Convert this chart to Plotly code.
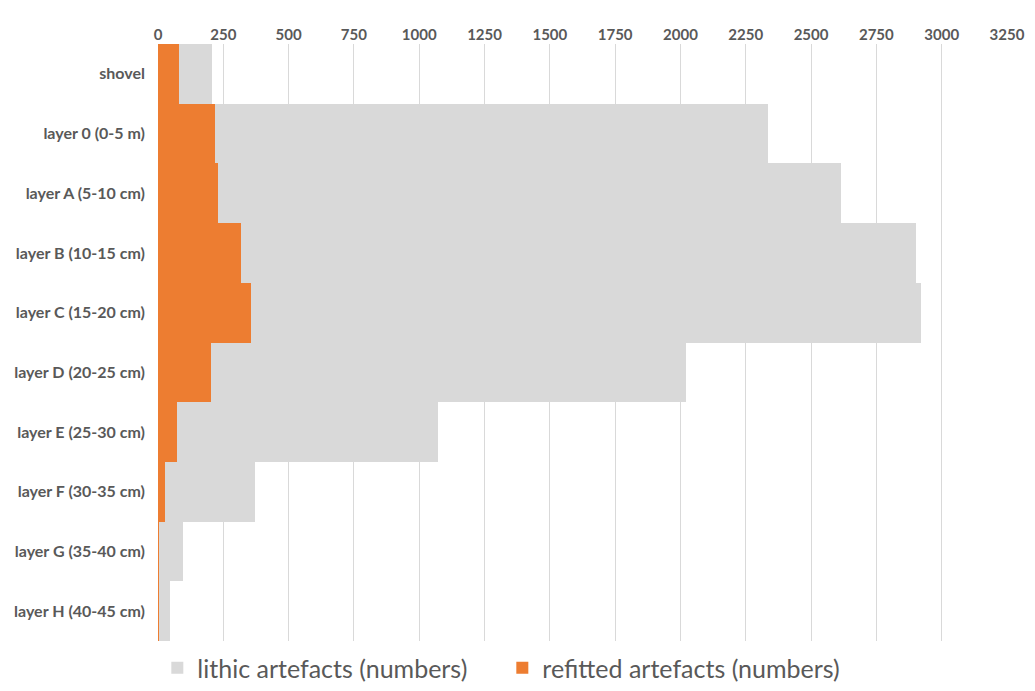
import plotly.graph_objects as go

# Excavation units, top to bottom
layers = [
    "shovel",
    "layer 0 (0-5 m)",
    "layer A (5-10 cm)",
    "layer B (10-15 cm)",
    "layer C (15-20 cm)",
    "layer D (20-25 cm)",
    "layer E (25-30 cm)",
    "layer F (30-35 cm)",
    "layer G (35-40 cm)",
    "layer H (40-45 cm)",
]

# Counts per unit
lithic_artefacts = [205, 2335, 2615, 2900, 2920, 2020, 1070, 372, 97, 45]
refitted_artefacts = [82, 218, 230, 318, 356, 202, 73, 26, 3, 2]

x_ticks = list(range(0, 3251, 250))

GREY = "#D9D9D9"
ORANGE = "#ED7D31"
TEXT = "#595959"
FONT = "Lato"

fig = go.Figure()
fig.add_trace(go.Bar(
    y=layers, x=lithic_artefacts, orientation="h",
    name="lithic artefacts (numbers)",
    marker=dict(color=GREY, line=dict(width=0)),
))
fig.add_trace(go.Bar(
    y=layers, x=refitted_artefacts, orientation="h",
    name="refitted artefacts (numbers)",
    marker=dict(color=ORANGE, line=dict(width=0)),
))

fig.update_layout(
    width=1035, height=691,
    margin=dict(l=157.5, r=27.5, t=43.5, b=49.5, autoexpand=False),
    paper_bgcolor="white", plot_bgcolor="white",
    barmode="overlay", bargap=0,
    font=dict(family=FONT, color=TEXT),
    showlegend=True,
    legend=dict(
        orientation="h",
        xref="container", yref="container",
        x=0.152, xanchor="left",
        y=-0.02, yanchor="bottom",
        font=dict(family=FONT, size=25, color=TEXT),
        itemsizing="constant",
        entrywidth=300, entrywidthmode="pixels",
    ),
    xaxis=dict(
        side="top", range=[0, 3250],
        tickmode="array", tickvals=x_ticks,
        ticktext=[str(v) for v in x_ticks],
        tickangle=0,
        showgrid=True, gridcolor=GREY, gridwidth=1,
        zeroline=False, showline=False, ticks="",
        tickfont=dict(family=FONT, size=15, color=TEXT, weight="bold"),
    ),
    yaxis=dict(
        autorange="reversed",
        showgrid=False, zeroline=False, showline=False, ticks="",
        ticklabelstandoff=12,
        tickfont=dict(family=FONT, size=16, color=TEXT, weight="bold"),
    ),
)

fig.write_html("out.html")
